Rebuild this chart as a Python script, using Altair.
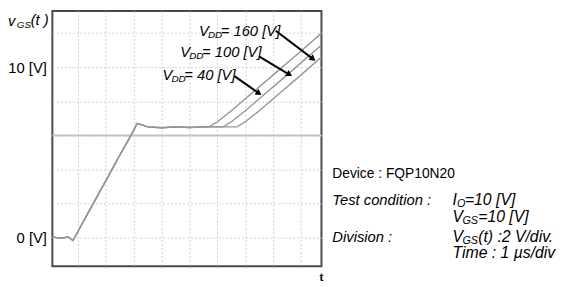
import math
import altair as alt
import pandas as pd

# ---------------- data ----------------
# time in µs (1 µs/div), voltage in V (2 V/div)
common_t = [-0.92, -0.6, -0.35, -0.18, 0.5, 1.0, 1.5, 1.9, 2.12, 2.3, 2.5, 3.0, 3.5, 4.0, 4.5]
common_v = [0.03, -0.03, 0.04, -0.17, 1.86, 3.35, 4.85, 6.0, 6.7, 6.62, 6.5, 6.45, 6.5, 6.46, 6.5]

vdd_values = ["40", "100", "160"]
ramp_t = {
    "40": [4.7, 5.0, 5.5, 6.0, 7.0, 8.0, 8.73],
    "100": [5.2, 5.5, 6.0, 6.5, 7.5, 8.73],
    "160": [5.7, 6.0, 6.5, 7.0, 8.0, 8.73],
}
ramp_v = {
    "40": [6.5, 6.8, 7.45, 8.15, 9.55, 10.95, 12.0],
    "100": [6.5, 6.8, 7.45, 8.15, 9.55, 11.3],
    "160": [6.5, 6.8, 7.45, 8.15, 9.55, 10.6],
}

label_t = [3.03, 3.67, 4.34]
label_v = [9.54, 10.87, 12.14]
arrow_t1 = [5.61, 6.49, 7.09]
arrow_v1 = [9.48, 10.64, 12.14]
arrow_t2 = [6.46, 7.55, 8.40]
arrow_v2 = [8.50, 9.60, 10.52]

plateau_ref_v = [6.0]
y_grid = [0, 2, 4, 6, 8, 10, 12]
x_grid = [0, 1, 2, 3, 4, 5, 6, 7, 8]
t_domain = [-0.92, 8.73]
v_domain = [-1.68, 13.3]

FONT = "Liberation Sans"
W, H = 273, 259
LEFT, TOP = 45, 1

# ---------------- tables ----------------
rows = []
for vdd in vdd_values:
    for t, v in zip(common_t + ramp_t[vdd], common_v + ramp_v[vdd]):
        rows.append({"vdd": vdd, "t": t, "v": v})
traces = pd.DataFrame(rows)

ppt = W / (t_domain[1] - t_domain[0])
ppv = H / (v_domain[1] - v_domain[0])
arrows = pd.DataFrame({"t1": arrow_t1, "v1": arrow_v1, "t2": arrow_t2, "v2": arrow_v2})
arrows["ang"] = [
    math.degrees(math.atan2(-(b2 - b1) * ppv, (a2 - a1) * ppt)) + 90
    for a1, b1, a2, b2 in zip(arrow_t1, arrow_v1, arrow_t2, arrow_v2)
]
labels = pd.DataFrame({"t": label_t, "v": label_v,
                       "rest": ["= " + s + " [V]" for s in vdd_values]})

X = alt.Scale(domain=t_domain, nice=False, zero=False)
Y = alt.Scale(domain=v_domain, nice=False, zero=False)
XA = alt.Axis(values=x_grid, labels=False, ticks=False, domain=False,
              grid=True, gridDash=[2, 2], gridColor="#cfcfcf", title=None)
YA = alt.Axis(values=y_grid, ticks=False, domain=False, grid=True,
              gridDash=[2, 2], gridColor="#cfcfcf", title=None,
              labelExpr="datum.value == 0 || datum.value == 10 ? datum.value + ' [V]' : ''",
              labelFont=FONT, labelFontSize=15, labelColor="black", labelPadding=6)


def xe(f):
    return alt.X(f, scale=X, axis=XA, title=None)


def ye(f):
    return alt.Y(f, scale=Y, axis=YA, title=None)


ref_rule = alt.Chart(pd.DataFrame({"v": plateau_ref_v})).mark_rule(
    color="#c2c2c2", strokeWidth=2).encode(y=ye("v:Q"))

base_line = alt.Chart(traces).mark_line(color="#959595", strokeWidth=1.4).encode(
    x=xe("t:Q"), y=ye("v:Q"), detail="vdd:N")

arrow_lines = alt.Chart(arrows).mark_rule(color="black", strokeWidth=2).encode(
    x=xe("t1:Q"), y=ye("v1:Q"), x2="t2:Q", y2="v2:Q")
arrow_heads = alt.Chart(arrows).mark_point(shape="triangle", filled=True, color="black",
                                           size=50, opacity=1).encode(
    x=xe("t2:Q"), y=ye("v2:Q"), angle=alt.Angle("ang:Q", scale=None))

lab_v = alt.Chart(labels).mark_text(text="V", font=FONT, fontSize=15, fontStyle="italic",
                                    align="left", baseline="middle").encode(
    x=xe("t:Q"), y=ye("v:Q"))
lab_dd = alt.Chart(labels).mark_text(text="DD", font=FONT, fontSize=10, fontStyle="italic",
                                     align="left", baseline="middle", dx=9, dy=4).encode(
    x=xe("t:Q"), y=ye("v:Q"))
lab_rest = alt.Chart(labels).mark_text(font=FONT, fontSize=15, fontStyle="italic",
                                       align="left", baseline="middle", dx=22).encode(
    x=xe("t:Q"), y=ye("v:Q"), text="rest:N")

# free text (page pixel positions of the reference)
free_texts = [
    ("v", 8, 19, 15, "italic", "normal", "left"),
    ("GS", 17, 23, 10, "italic", "normal", "left"),
    ("(t )", 31, 18, 15, "italic", "normal", "left"),
    ("t", 326, 279, 12, "normal", "bold", "center"),
    ("Device : FQP10N20", 337, 174, 14, "normal", "normal", "left"),
    ("Test condition :", 337, 201, 15, "italic", "normal", "left"),
    ("I", 459, 201, 16, "italic", "normal", "left"),
    ("O", 463.5, 205, 11, "italic", "normal", "left"),
    ("=10 [V]", 471.5, 201, 16, "italic", "normal", "left"),
    ("V", 459, 218, 16, "italic", "normal", "left"),
    ("GS", 469, 222, 11, "italic", "normal", "left"),
    ("=10 [V]", 485, 218, 16, "italic", "normal", "left"),
    ("Division :", 337, 238, 15, "italic", "normal", "left"),
    ("V", 459, 238, 16, "italic", "normal", "left"),
    ("GS", 469, 242, 11, "italic", "normal", "left"),
    ("(t) :2 V/div.", 485, 238, 16, "italic", "normal", "left"),
    ("Time : 1 \u00b5s/div", 459, 255, 16, "italic", "normal", "left"),
]
one = pd.DataFrame({"k": [0]})
text_layers = []
for txt, px, py, fs, style, weight, al in free_texts:
    text_layers.append(
        alt.Chart(one).mark_text(text=txt, font=FONT, fontSize=fs, fontStyle=style,
                                 fontWeight=weight, align=al, baseline="middle",
                                 color="black").encode(
            x=alt.value(px - 8 - LEFT), y=alt.value(py - 8 - TOP)))

chart = alt.layer(ref_rule, base_line, arrow_lines, arrow_heads, lab_v, lab_dd, lab_rest,
                  *text_layers).properties(
    width=W, height=H, autosize="none",
    padding={"left": LEFT, "top": TOP, "right": 560 - LEFT - W, "bottom": 20},
    background="white",
).configure_view(stroke="#4a4a4a", strokeWidth=2)

chart.save("out.html", embed_options={"renderer": "svg", "actions": False})
